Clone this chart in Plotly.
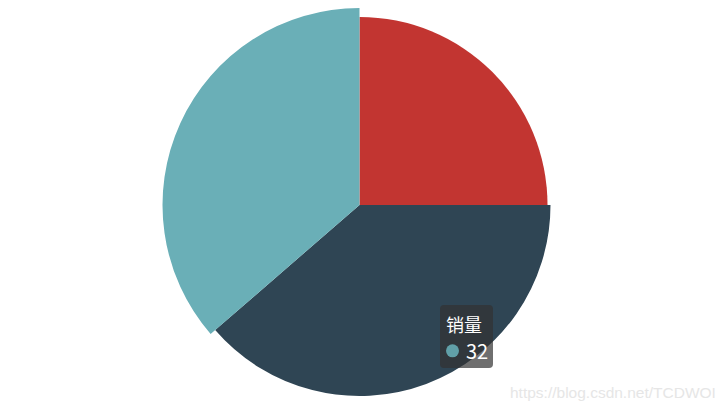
import plotly.graph_objects as go

# ---- data ----
series_name = "销量"
categories = ["A", "B", "C"]
values = [22, 34, 32]
colors = ["#c23531", "#2f4554", "#6aafb7"]
marker_color = "#61a0a8"
hovered_index = 2
watermark = "https://blog.csdn.net/TCDWOI"

W, H = 727, 412
CX, CY = 359.5, 205.0      # pie centre in pixels
RMAX = 200.0               # polar radius in pixels
BASE_R, R_STEP = 188.0, 0.25   # rose-style radius mapping
HOVER_GROW = 6.5

total = sum(values)
thetas, widths, radii = [], [], []
acc = 0.0
for i, v in enumerate(values):
    w = v / total * 360.0
    thetas.append(acc + w / 2)
    widths.append(w)
    acc += w
    r = BASE_R + (v - min(values)) * R_STEP
    if i == hovered_index:
        r += HOVER_GROW
    radii.append(r)

fig = go.Figure()
fig.add_trace(go.Barpolar(
    r=radii, theta=thetas, width=widths,
    marker=dict(color=colors, line=dict(width=0)),
    hoverinfo="skip", showlegend=False,
))

fig.update_layout(
    width=W, height=H,
    margin=dict(l=0, r=0, t=0, b=0),
    paper_bgcolor="white", plot_bgcolor="white",
    hovermode=False,
    polar=dict(
        domain=dict(x=[(CX - RMAX) / W, (CX + RMAX) / W],
                    y=[(H - CY - RMAX) / H, (H - CY + RMAX) / H]),
        bgcolor="rgba(0,0,0,0)",
        bargap=0,
        radialaxis=dict(range=[0, RMAX], visible=False, showgrid=False),
        angularaxis=dict(rotation=90, direction="clockwise", visible=False,
                         showgrid=False),
    ),
)

def px(x):
    return x / W

def py(y):
    return 1 - y / H

# tooltip box (rounded)
x0, x1, y0, y1, rr = 440, 493, 305, 368, 4
path = (f"M {px(x0+rr)} {py(y0)} L {px(x1-rr)} {py(y0)} "
        f"Q {px(x1)} {py(y0)} {px(x1)} {py(y0+rr)} L {px(x1)} {py(y1-rr)} "
        f"Q {px(x1)} {py(y1)} {px(x1-rr)} {py(y1)} L {px(x0+rr)} {py(y1)} "
        f"Q {px(x0)} {py(y1)} {px(x0)} {py(y1-rr)} L {px(x0)} {py(y0+rr)} "
        f"Q {px(x0)} {py(y0)} {px(x0+rr)} {py(y0)} Z")
fig.add_shape(type="path", path=path, xref="paper", yref="paper",
              fillcolor="rgba(50,50,50,0.7)", line=dict(width=0))
fig.add_shape(type="circle", xref="paper", yref="paper",
              x0=px(446), x1=px(459), y0=py(357.3), y1=py(344.3),
              fillcolor=marker_color, line=dict(width=0))

fig.add_annotation(x=px(443.5), y=py(324), xref="paper", yref="paper",
                   text=series_name, showarrow=False, xanchor="left", yanchor="middle",
                   font=dict(family="Noto Sans CJK SC", size=18, color="white"))
fig.add_annotation(x=px(463.5), y=py(350), xref="paper", yref="paper",
                   text=str(values[hovered_index]), showarrow=False,
                   xanchor="left", yanchor="middle",
                   font=dict(family="Noto Sans CJK SC", size=20, color="white"))
fig.add_annotation(x=px(718), y=py(392), xref="paper", yref="paper",
                   text=watermark, showarrow=False, xanchor="right", yanchor="middle",
                   font=dict(family="Liberation Sans", size=15.5, color="#e6e6e6"))

fig.write_html("out.html", config={"displayModeBar": False},
               post_script="document.body.style.margin='0';")
